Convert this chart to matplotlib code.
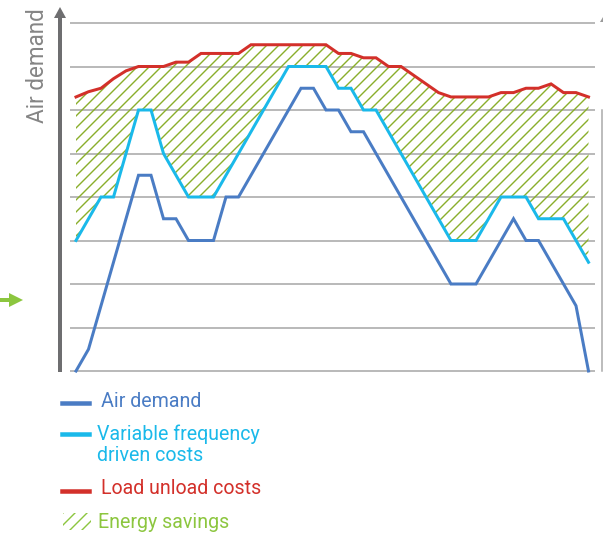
import matplotlib
matplotlib.use("Agg")
import matplotlib.pyplot as plt
import numpy as np

# time steps (x) and demand levels (y, in grid units)
air_t = [0, 1, 5, 6, 7, 8, 9, 11, 12, 13, 18, 19, 20, 21, 22, 23, 30, 32, 35, 36, 37, 40, 41]
air_v = [0, 0.5, 4.5, 4.5, 3.5, 3.5, 3, 3, 4, 4, 6.5, 6.5, 6, 6, 5.5, 5.5, 2, 2, 3.5, 3, 3, 1.5, 0]

vfd_t = [0, 2, 3, 5, 6, 7, 9, 11, 17, 20, 21, 22, 23, 24, 30, 32, 34, 36, 37, 39, 41]
vfd_v = [3, 4, 4, 6, 6, 5, 4, 4, 7, 7, 6.5, 6.5, 6, 6, 3, 3, 4, 4, 3.5, 3.5, 2.5]

lu_t = [0, 1, 2, 3, 4, 5, 7, 8, 9, 10, 13, 14, 20, 21, 22, 23, 24, 25, 26, 27,
        29, 30, 33, 34, 35, 36, 37, 38, 39, 40, 41]
lu_v = [6.3, 6.42, 6.5, 6.72, 6.9, 7, 7, 7.1, 7.1, 7.3, 7.3, 7.5, 7.5, 7.3, 7.3, 7.2, 7.2, 7, 7, 6.8,
        6.4, 6.3, 6.3, 6.4, 6.4, 6.5, 6.5, 6.6, 6.4, 6.4, 6.3]

grid_levels = list(range(9))

labels = ["Air demand", "Variable frequency\ndriven costs", "Load unload costs", "Energy savings"]

BLUE = "#4a7cc4"
CYAN = "#1ab9ea"
RED = "#d3302a"
GREEN = "#8cc63f"
HATCH_GREEN = "#8aae2c"
GRAY = "#6e6e70"

plt.rcParams["font.family"] = ["Roboto", "DejaVu Sans"]
plt.rcParams["hatch.linewidth"] = 1.4

W, H = 603, 539
fig = plt.figure(figsize=(W / 72, H / 72), dpi=72)
ax = fig.add_axes([70 / W, 168 / H, 525 / W, 348 / H])
ax.set_xlim(-0.48, 41.52)
ax.set_ylim(0, 8)
ax.axis("off")

ax.hlines(grid_levels, -0.48, 41.52, color="#a4a4a4", lw=1.5, zorder=1, clip_on=False)

# savings region between load/unload and VFD curves
poly_x = np.r_[lu_t, vfd_t[::-1]]
poly_y = np.r_[lu_v, vfd_v[::-1]]
ax.fill(poly_x, poly_y, facecolor="none", edgecolor=HATCH_GREEN, lw=0, hatch="//", zorder=2)

ax.plot(air_t, air_v, color=BLUE, lw=3, zorder=3, clip_on=False, solid_joinstyle="miter")
ax.plot(vfd_t, vfd_v, color=CYAN, lw=3, zorder=4, clip_on=False, solid_joinstyle="miter")
ax.plot(lu_t, lu_v, color=RED, lw=3, zorder=5, clip_on=False, solid_joinstyle="miter")

# vertical axis arrow
ax.annotate("", xy=(60, H - 7), xytext=(60, H - 372), xycoords="figure pixels",
            textcoords="figure pixels",
            arrowprops=dict(arrowstyle="simple,head_length=0.55,head_width=0.6,tail_width=0.2",
                            mutation_scale=20, color=GRAY, lw=0, shrinkA=0, shrinkB=0))
fig.text(37 / W, 1 - 66 / H, "Air demand", rotation=90, ha="center", va="center",
         fontsize=22.5, color="#858585")

# right edge marker
ax.annotate("", xy=(606, H - 12), xytext=(606, H - 372), xycoords="figure pixels",
            textcoords="figure pixels",
            arrowprops=dict(arrowstyle="simple,head_length=0.5,head_width=0.6,tail_width=0.2",
                            mutation_scale=20, color="#9a9a9a", lw=0, shrinkA=0, shrinkB=0))
fig.add_artist(plt.Line2D([602 / W, 602 / W], [1 - 110 / H, 1 - 371 / H], color="#a8a8a8", lw=1.5))

# green pointer on the left
ax.annotate("", xy=(23, H - 300), xytext=(0, H - 300), xycoords="figure pixels",
            textcoords="figure pixels",
            arrowprops=dict(arrowstyle="simple,head_length=0.7,head_width=0.7,tail_width=0.2",
                            mutation_scale=20, color=GREEN, lw=0, shrinkA=0, shrinkB=0))

# legend
def fx(px):
    return px / W

def fy(py):
    return 1 - py / H

for y, c in [(403, BLUE), (434, CYAN), (491, RED)]:
    fig.add_artist(plt.Line2D([fx(62), fx(89)], [fy(y), fy(y)], color=c, lw=4.5))

hb = plt.Rectangle((fx(63), fy(530)), (91 - 63) / W, (530 - 513) / H, transform=fig.transFigure,
                   facecolor="none", edgecolor=GREEN, lw=0, hatch="//")
fig.add_artist(hb)

fs = 19.6
fig.text(fx(101), fy(407), labels[0], color=BLUE, fontsize=fs, va="baseline")
fig.text(fx(97), fy(440), labels[1].split("\n")[0], color=CYAN, fontsize=fs, va="baseline")
fig.text(fx(97), fy(461), labels[1].split("\n")[1], color=CYAN, fontsize=fs, va="baseline")
fig.text(fx(101), fy(494), labels[2], color=RED, fontsize=fs, va="baseline")
fig.text(fx(98), fy(528), labels[3], color=GREEN, fontsize=fs, va="baseline")

fig.savefig("out.png", dpi=72)
